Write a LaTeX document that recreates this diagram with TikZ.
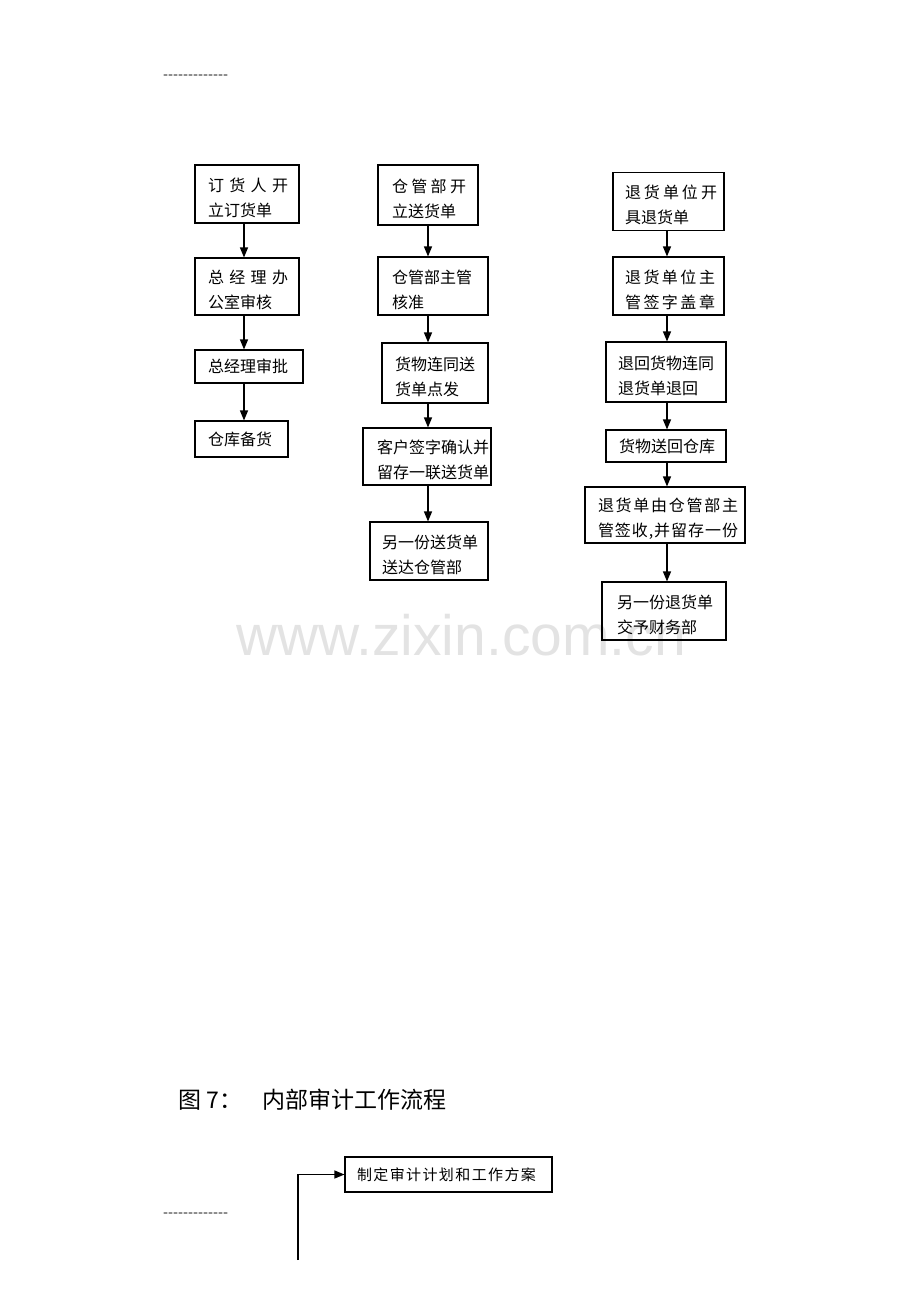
\documentclass[tikz,border=0pt]{standalone}
\usepackage{fontspec}
\newfontfamily\cjk{Noto Sans CJK SC}
\newfontfamily\wmfont{Liberation Sans}
\usetikzlibrary{arrows.meta}
\def\spreadchars#1{#1\spreadnext}
\def\spreadnext#1{\ifx#1\relax\else\hfil#1\expandafter\spreadnext\fi}
\newcommand\jl[2]{\makebox[#1][s]{\spreadchars#2\relax}}
\begin{document}
\begin{tikzpicture}[x=1pt,y=-1pt,
  box/.style={draw, line width=1.1pt, inner xsep=13pt, inner ysep=0pt, align=left,
    font=\cjk\fontsize{16}{25}\selectfont},
  two/.style={execute at begin node={\rule{0pt}{21pt}}},
  arr/.style={line width=1.2pt, -{Triangle[length=10pt,width=8pt]}},
  dashline/.style={font=\wmfont\fontsize{15}{15}\selectfont, text=black!75, inner sep=0pt, anchor=west}]
\useasboundingbox (0,0) rectangle (920,1302);
% watermark
\node[font=\wmfont\fontsize{57}{57}\selectfont, text=gray!22, anchor=base, inner sep=0pt] (wm) at (461,655) {www.zixin.com.cn};
% header / footer dashes
\node[dashline] (hd) at (163,77) {-------------};
\node[dashline] (fd) at (163,1215) {-------------};
% column 1
\node[box, two, text width=78pt, minimum height=58pt] (a1) at (247,194) {\jl{80pt}{订货人开}\\立订货单};
\node[box, two, text width=78pt, minimum height=57pt] (a2) at (247,286.5) {\jl{80pt}{总经理办}\\公室审核};
\node[box, text width=82pt, minimum height=33pt] (a3) at (249,366.5) {总经理审批};
\node[box, text width=67pt, minimum height=36pt] (a4) at (241.5,439) {仓库备货};
\coordinate (c1) at (244,0);
\draw[arr] (a1.south -| c1) -- (a2.north -| c1);
\draw[arr] (a2.south -| c1) -- (a3.north -| c1);
\draw[arr] (a3.south -| c1) -- (a4.north -| c1);
% column 2
\node[box, two, text width=72pt, minimum height=60pt, inner xsep=14pt] (b1) at (428,195) {\jl{74pt}{仓管部开}\\立送货单};
\node[box, two, text width=82pt, minimum height=58pt, inner xsep=14pt] (b2) at (433,286) {仓管部主管\\核准};
\node[box, two, text width=80pt, minimum height=60pt] (b3) at (435,373) {货物连同送\\货单点发};
\node[box, two, text width=100pt, minimum height=57pt, inner xsep=14pt] (b4) at (427,456.5) {客户签字确认并\\留存一联送货单};
\node[box, two, text width=94pt, minimum height=58pt, inner xsep=12pt] (b5) at (429,551) {另一份送货单\\送达仓管部};
\coordinate (c2) at (428,0);
\draw[arr] (b1.south -| c2) -- (b2.north -| c2);
\draw[arr] (b2.south -| c2) -- (b3.north -| c2);
\draw[arr] (b3.south -| c2) -- (b4.north -| c2);
\draw[arr] (b4.south -| c2) -- (b5.north -| c2);
% column 3
\node[box, two, text width=87pt, minimum height=58pt, inner xsep=12pt] (k1) at (668.5,201.5) {\jl{92pt}{退货单位开}\\具退货单};
\node[box, two, text width=87pt, minimum height=58pt, inner xsep=12pt] (k2) at (668.5,286) {\jl{90pt}{退货单位主}\\\jl{90pt}{管签字盖章}};
\node[box, two, text width=96pt, minimum height=60pt, inner xsep=12pt] (k3) at (666,372) {退回货物连同\\退货单退回};
\node[box, text width=94pt, minimum height=32pt] (k4) at (666,446) {货物送回仓库};
\node[box, two, text width=134pt, minimum height=56pt] (k5) at (665,515) {\jl{140pt}{退货单由仓管部主}\\\jl{140pt}{管签收,并留存一份}};
\node[box, two, text width=94pt, minimum height=58pt, inner xsep=15pt] (k6) at (664,611) {另一份退货单\\交予财务部};
\coordinate (c3) at (667,0);
\draw[arr] (k1.south -| c3) -- (k2.north -| c3);
\draw[arr] (k2.south -| c3) -- (k3.north -| c3);
\draw[arr] (k3.south -| c3) -- (k4.north -| c3);
\draw[arr] (k4.south -| c3) -- (k5.north -| c3);
\draw[arr] (k5.south -| c3) -- (k6.north -| c3);
% figure 7
\node[font=\cjk\fontsize{23}{23}\selectfont, anchor=west, inner sep=0pt] (title) at (178,1100) {图 7：\hspace{20pt}内部审计工作流程};
\node[box, font=\cjk\fontsize{15}{20}\selectfont, text width=183pt, minimum height=35pt, inner xsep=12pt] (d1) at (448.5,1174.5) {\jl{179pt}{制定审计计划和工作方案}};
\coordinate (dstart) at (298,1260);
\draw[arr] (dstart) |- (d1.west);
\end{tikzpicture}
\end{document}
